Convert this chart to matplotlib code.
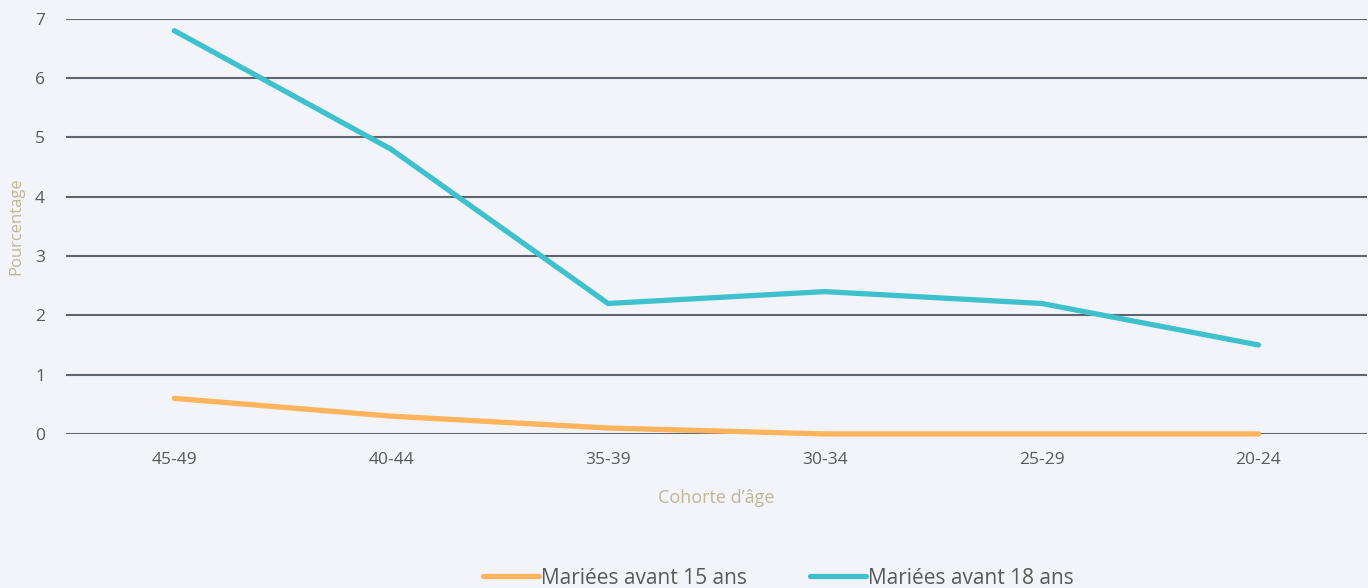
import matplotlib.pyplot as plt

plt.rcParams['font.family'] = ['Open Sans', 'DejaVu Sans']

cohorts = ['45-49', '40-44', '35-39', '30-34', '25-29', '20-24']
before_15 = [0.6, 0.3, 0.1, 0.0, 0.0, 0.0]
before_18 = [6.8, 4.8, 2.2, 2.4, 2.2, 1.5]

bg = '#f2f4f9'
fig = plt.figure(figsize=(13.68, 5.88), dpi=100, facecolor=bg)
ax = fig.add_axes([0.0482, 0.262, 0.951, 0.706], facecolor=bg)

x = range(len(cohorts))
ax.plot(x, before_15, color='#fdb45c', lw=3.8, solid_capstyle='round',
        label='Mariées avant 15 ans', zorder=3, clip_on=False)
ax.plot(x, before_18, color='#3ec1cd', lw=3.8, solid_capstyle='round',
        label='Mariées avant 18 ans', zorder=3, clip_on=False)

ax.set_xlim(-0.5, 5.5)
ax.set_ylim(0, 7)
ax.set_yticks(range(0, 8))
ax.set_xticks(list(x))
ax.set_xticklabels(cohorts)
ax.grid(axis='y', color='#5f6670', lw=1.5)
ax.set_axisbelow(True)
for s in ax.spines.values():
    s.set_visible(False)
ax.tick_params(length=0, labelsize=12.5, colors='#595959')
ax.tick_params(axis='x', pad=13)
ax.tick_params(axis='y', pad=15)

ax.set_xlabel("Cohorte d’âge", color='#bfb893', fontsize=13, labelpad=15)
ax.set_ylabel('Pourcentage', color='#bfb893', fontsize=12, labelpad=8)

fig.legend(loc='lower center', bbox_to_anchor=(0.569, -0.033), ncol=2, frameon=False,
           fontsize=15, handlelength=2.7, handletextpad=0.1, columnspacing=3.0,
           labelcolor='#595959')

fig.savefig('out.png', dpi=100, facecolor=bg)
